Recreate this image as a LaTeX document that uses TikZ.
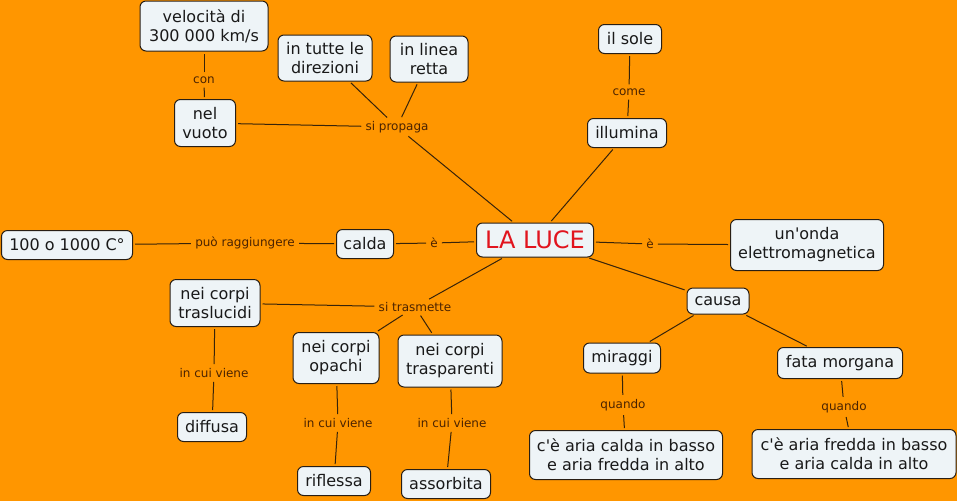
\documentclass[tikz,border=0pt]{standalone}
\usepackage{fontspec}
\setmainfont[Ligatures=TeXOff]{DejaVu Sans}
\definecolor{bgc}{RGB}{255,150,0}
\definecolor{boxfill}{RGB}{238,244,247}
\definecolor{boxdraw}{RGB}{40,30,20}
\definecolor{linec}{RGB}{55,35,10}
\definecolor{labc}{RGB}{75,35,0}
\definecolor{luce}{RGB}{225,20,30}
\tikzset{
  concept/.style={draw=boxdraw, fill=boxfill, line width=0.75pt, rounded corners=4.5pt,
    align=center, inner sep=1pt, font=\fontsize{12}{14.3}\selectfont, text=black!90},
  linklab/.style={inner sep=1.5pt, font=\fontsize{9}{10}\selectfont, text=labc},
  conn/.style={draw=linec, line width=0.75pt, shorten <=1.5pt, shorten >=1.5pt},
}
\begin{document}
\begin{tikzpicture}[x=0.75pt,y=-0.75pt]
\fill[bgc] (0,0) rectangle (957,501);
\useasboundingbox (0,0) rectangle (957,501);
% concepts
\node[concept, minimum width=96pt, minimum height=37.5pt] (vel) at (204,26) {velocità di\\300 000 km/s};
\node[concept, minimum width=70.5pt, minimum height=34.5pt] (tutte) at (325,58) {in tutte le\\direzioni};
\node[concept, minimum width=58.5pt, minimum height=34.5pt] (linea) at (429,59) {in linea\\retta};
\node[concept, minimum width=45.75pt, minimum height=35.25pt] (vuoto) at (205,123) {nel\\vuoto};
\node[concept, minimum width=47.25pt, minimum height=21.75pt] (sole) at (630,39) {il sole};
\node[concept, minimum width=59.25pt, minimum height=21.75pt] (illum) at (627,133) {illumina};
\node[concept, minimum width=87.75pt, minimum height=25.5pt, font=\fontsize{18}{20}\selectfont, text=luce] (luce) at (535,240) {LA LUCE};
\node[concept, minimum width=114.75pt, minimum height=38.25pt] (onda) at (807,245) {un'onda\\elettromagnetica};
\node[concept, minimum width=46.5pt, minimum height=19.5pt] (causa) at (718,301) {causa};
\node[concept, minimum width=42.75pt, minimum height=21.75pt] (calda) at (365,244) {calda};
\node[concept, minimum width=98.25pt, minimum height=21.75pt] (cento) at (67,245) {100 o 1000 C°};
\node[concept, minimum width=67.5pt, minimum height=35.25pt] (trasl) at (215,303) {nei corpi\\traslucidi};
\node[concept, minimum width=64.5pt, minimum height=38.25pt] (opachi) at (336,358) {nei corpi\\opachi};
\node[concept, minimum width=78pt, minimum height=39pt] (traspar) at (450,361) {nei corpi\\trasparenti};
\node[concept, minimum width=51.75pt, minimum height=21.75pt] (diffusa) at (212,427) {diffusa};
\node[concept, minimum width=54.75pt, minimum height=21.75pt] (rifl) at (334,481) {riflessa};
\node[concept, minimum width=66.75pt, minimum height=21.75pt] (assorb) at (446,484) {assorbita};
\node[concept, minimum width=57.75pt, minimum height=22.5pt] (mirag) at (622,358) {miraggi};
\node[concept, minimum width=93.75pt, minimum height=23.25pt] (fata) at (840,363) {fata morgana};
\node[concept, minimum width=144.75pt, minimum height=36.75pt] (caldab) at (626,455) {c'è aria calda in basso\\e aria fredda in alto};
\node[concept, minimum width=153pt, minimum height=36.75pt] (freddab) at (854,454) {c'è aria fredda in basso\\e aria calda in alto};
% link labels
\node[linklab] (lcon) at (204,80) {con};
\node[linklab] (lprop) at (397,127) {si propaga};
\node[linklab] (lcome) at (629,92) {come};
\node[linklab] (le1) at (434,243) {è};
\node[linklab] (le2) at (650,244) {è};
\node[linklab] (lpuo) at (245,243) {può raggiungere};
\node[linklab] (ltras) at (415,307) {si trasmette};
\node[linklab] (lcui1) at (214,373) {in cui viene};
\node[linklab] (lcui2) at (338,423) {in cui viene};
\node[linklab] (lcui3) at (452,423) {in cui viene};
\node[linklab] (lq1) at (623,405) {quando};
\node[linklab] (lq2) at (844,407) {quando};
% connectors
\draw[conn] (vuoto) -- (lcon);
\draw[conn] (lcon) -- (vel);
\draw[conn] (luce) -- (lprop);
\draw[conn] (lprop) -- (vuoto);
\draw[conn] (lprop) -- (tutte);
\draw[conn] (lprop) -- (linea);
\draw[conn] (luce) -- (illum);
\draw[conn] (illum) -- (lcome);
\draw[conn] (lcome) -- (sole);
\draw[conn] (luce) -- (le1);
\draw[conn] (le1) -- (calda);
\draw[conn] (calda) -- (lpuo);
\draw[conn] (lpuo) -- (cento);
\draw[conn] (luce) -- (le2);
\draw[conn] (le2) -- (onda);
\draw[conn] (luce) -- (causa);
\draw[conn] (causa) -- (mirag);
\draw[conn] (causa) -- (fata);
\draw[conn] (mirag) -- (lq1);
\draw[conn] (lq1) -- (caldab);
\draw[conn] (fata) -- (lq2);
\draw[conn] (lq2) -- (freddab);
\draw[conn] (luce) -- (ltras);
\draw[conn] (ltras) -- (trasl);
\draw[conn] (ltras) -- (opachi);
\draw[conn] (ltras) -- (traspar);
\draw[conn] (trasl) -- (lcui1);
\draw[conn] (lcui1) -- (diffusa);
\draw[conn] (opachi) -- (lcui2);
\draw[conn] (lcui2) -- (rifl);
\draw[conn] (traspar) -- (lcui3);
\draw[conn] (lcui3) -- (assorb);
\end{tikzpicture}
\end{document}
